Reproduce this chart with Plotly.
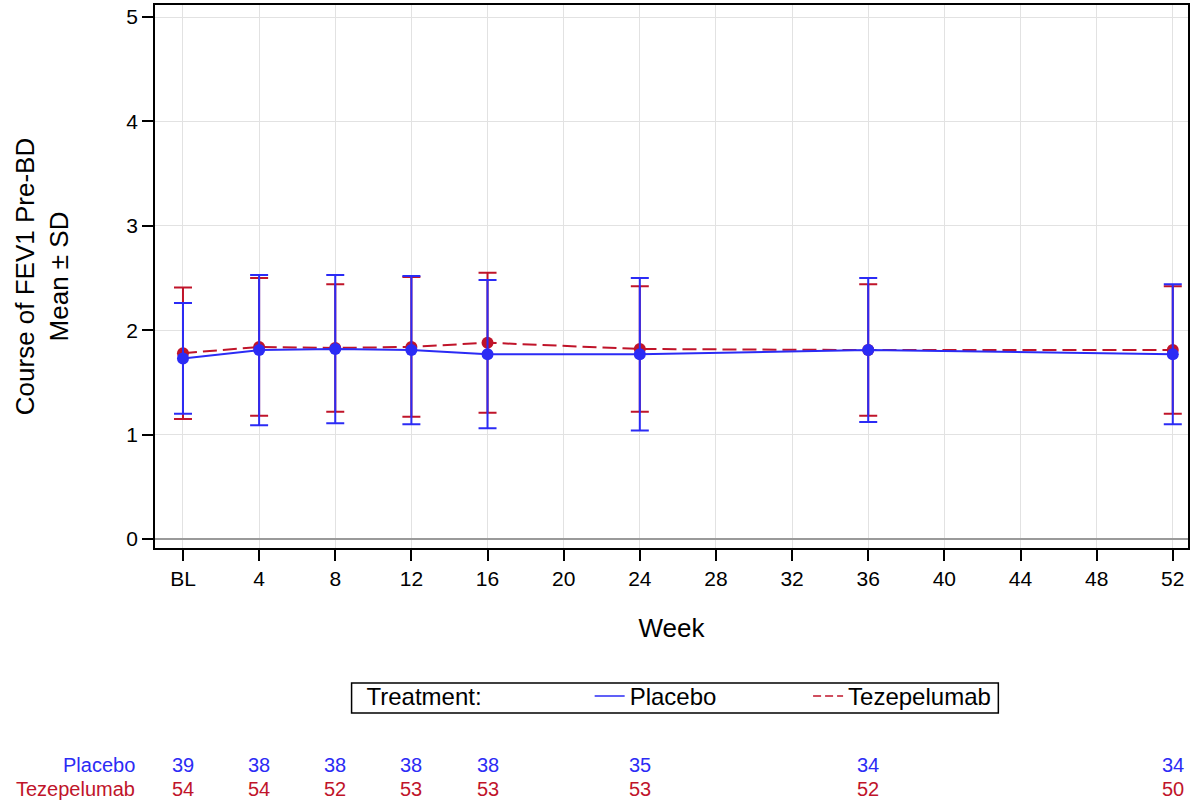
import plotly.graph_objects as go

weeks = [0, 4, 8, 12, 16, 24, 36, 52]
placebo_mean = [1.73, 1.81, 1.82, 1.81, 1.77, 1.77, 1.81, 1.77]
placebo_sd = [0.53, 0.72, 0.71, 0.71, 0.71, 0.73, 0.69, 0.67]
teze_mean = [1.78, 1.84, 1.83, 1.84, 1.88, 1.82, 1.81, 1.81]
teze_sd = [0.63, 0.66, 0.61, 0.67, 0.67, 0.60, 0.63, 0.61]
placebo_n = [39, 38, 38, 38, 38, 35, 34, 34]
teze_n = [54, 54, 52, 53, 53, 53, 52, 50]
tick_vals = [0, 4, 8, 12, 16, 20, 24, 28, 32, 36, 40, 44, 48, 52]
tick_text = ["BL", "4", "8", "12", "16", "20", "24", "28", "32", "36", "40", "44", "48", "52"]

BLUE = "#2B2BF5"
RED = "#C0142A"
FONT = "Liberation Sans, Arial, sans-serif"

fig = go.Figure()

fig.add_trace(go.Scatter(
    x=weeks, y=teze_mean, mode="lines+markers", name="Tezepelumab",
    line=dict(color=RED, width=2, dash="14px,6px"),
    marker=dict(color=RED, size=12),
    error_y=dict(type="data", array=teze_sd, visible=True, color=RED, thickness=2, width=9),
    showlegend=False,
))
fig.add_trace(go.Scatter(
    x=weeks, y=placebo_mean, mode="lines+markers", name="Placebo",
    line=dict(color=BLUE, width=2),
    marker=dict(color=BLUE, size=12),
    error_y=dict(type="data", array=placebo_sd, visible=True, color=BLUE, thickness=2, width=9),
    showlegend=False,
))

# legend-only traces
fig.add_trace(go.Scatter(x=[None], y=[None], mode="lines", name="Placebo" + "\u00a0" * 13,
                         line=dict(color=BLUE, width=1.5)))
fig.add_trace(go.Scatter(x=[None], y=[None], mode="lines", name="Tezepelumab",
                         line=dict(color=RED, width=1.5, dash="8px,4px")))

# at-risk table
ROW1, ROW2 = -0.4, -0.443
LABEL_X = (137 - 155) / 1035
for w, n in zip(weeks, placebo_n):
    fig.add_annotation(x=w, y=ROW1, xref="x", yref="paper", text=str(n), showarrow=False,
                       font=dict(color=BLUE, size=20, family=FONT), xanchor="center", yanchor="middle")
for w, n in zip(weeks, teze_n):
    fig.add_annotation(x=w, y=ROW2, xref="x", yref="paper", text=str(n), showarrow=False,
                       font=dict(color=RED, size=20, family=FONT), xanchor="center", yanchor="middle")
fig.add_annotation(x=LABEL_X, y=ROW1, xref="paper", yref="paper", text="Placebo", showarrow=False,
                   font=dict(color=BLUE, size=20, family=FONT), xanchor="right", yanchor="middle")
fig.add_annotation(x=LABEL_X, y=ROW2, xref="paper", yref="paper", text="Tezepelumab", showarrow=False,
                   font=dict(color=RED, size=20, family=FONT), xanchor="right", yanchor="middle")

# legend frame
fig.add_shape(type="rect", xref="paper", yref="paper",
              x0=0.1903, x1=0.8164, y0=-0.3039, y1=-0.2486,
              line=dict(color="black", width=1.5), fillcolor="rgba(0,0,0,0)")

fig.update_layout(
    width=1191, height=801,
    margin=dict(l=155, r=1, t=5, b=253),
    paper_bgcolor="white", plot_bgcolor="white",
    font=dict(family=FONT, size=21, color="black"),
    legend=dict(
        orientation="h", x=0.1903, y=-0.232, xanchor="left", yanchor="top",
        borderwidth=0, bgcolor="rgba(0,0,0,0)",
        title=dict(text="  Treatment:               ", side="left", font=dict(size=24)),
        font=dict(size=24),
    ),
    xaxis=dict(
        range=[-1.47, 52.8], tickvals=tick_vals, ticktext=tick_text,
        showgrid=True, gridcolor="#E2E2E2", gridwidth=1,
        showline=True, linecolor="black", linewidth=1.5, mirror=True,
        ticks="outside", ticklen=11, tickcolor="black", tickwidth=1.5, zeroline=False,
        title=dict(text="Week", standoff=30, font=dict(size=26)),
        tickfont=dict(size=21),
    ),
    yaxis=dict(
        range=[-0.086, 5.115], tickvals=[0, 1, 2, 3, 4, 5],
        showgrid=True, gridcolor="#E2E2E2", gridwidth=1,
        showline=True, linecolor="black", linewidth=1.5, mirror=True,
        ticks="outside", ticklen=11, tickcolor="black", tickwidth=1.5,
        zeroline=True, zerolinecolor="#9A9A9A", zerolinewidth=1.5,
        title=dict(text="Course of FEV1 Pre-BD<br>Mean ± SD", standoff=50, font=dict(size=26)),
        tickfont=dict(size=21),
    ),
)

fig.write_html("out.html")
